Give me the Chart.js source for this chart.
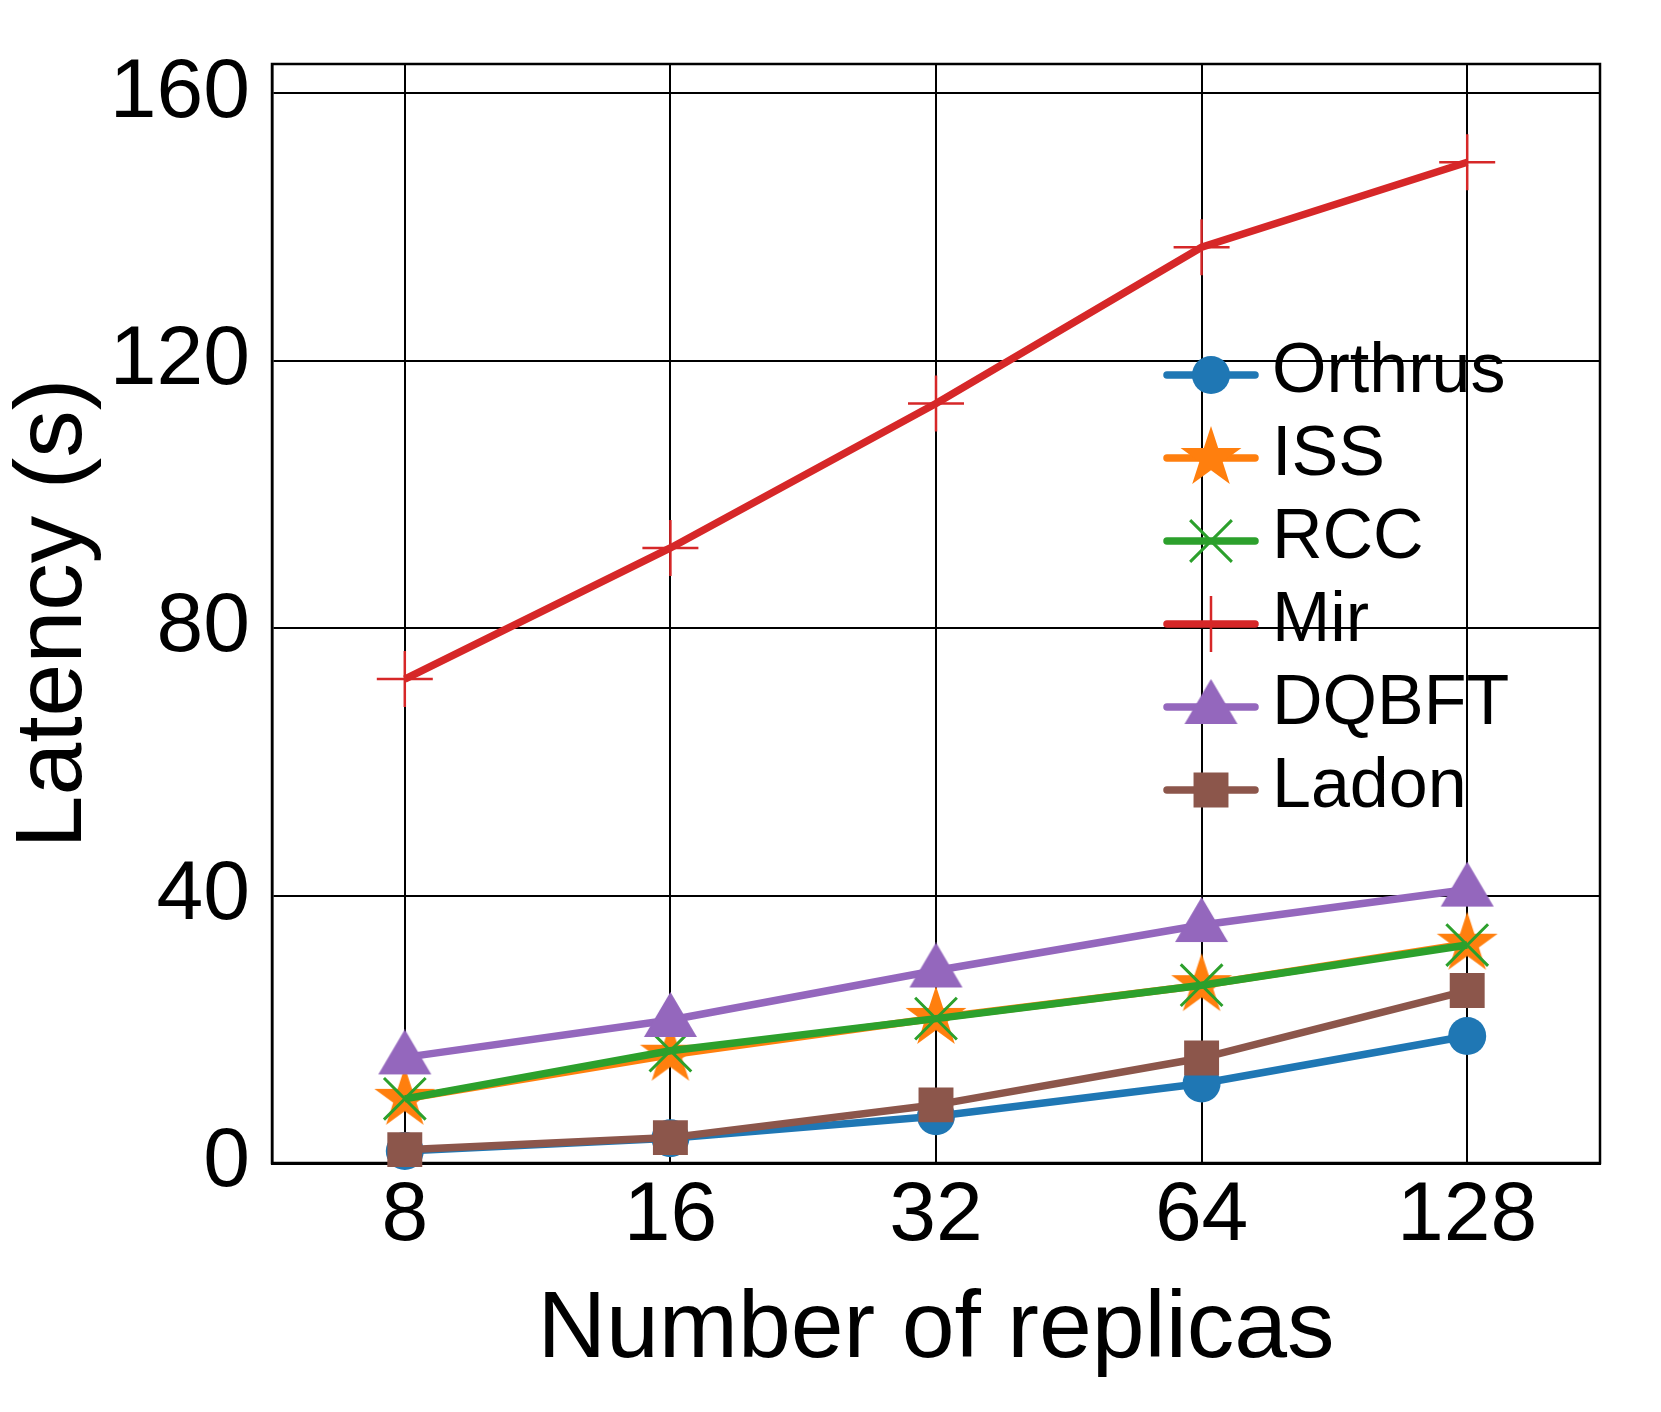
<!DOCTYPE html>
<html>
<head>
<meta charset="utf-8">
<title>Latency vs number of replicas</title>
<script src="https://cdn.jsdelivr.net/npm/chart.js@4.4.1/dist/chart.umd.min.js"></script>
<style>
  html, body { margin: 0; padding: 0; background: #fff; }
  #wrap { width: 1661px; height: 1412px; }
</style>
</head>
<body>
<div id="wrap"><canvas id="latencyChart" width="1661" height="1412"></canvas></div>
<script>
// --- values (latency in seconds)
const replicas = ['8', '16', '32', '64', '128'];
const orthrus = [1.8, 3.7, 7.0, 11.9, 19.0];
const iss     = [9.6, 16.2, 21.7, 26.6, 32.8];
const rcc     = [9.6, 16.8, 21.6, 26.6, 32.6];
const mir     = [72.4, 92.0, 113.6, 137.0, 149.7];
const dqbft   = [15.8, 21.4, 28.8, 35.6, 40.9];
const ladon   = [2.0, 3.8, 8.7, 15.7, 25.8];
const yTicks  = [0, 40, 80, 120, 160];

const FONT = '"Liberation Sans", Arial, Helvetica, sans-serif';

// filled five point star, like matplotlib's '*'
function starImage(color, outer) {
    const c = document.createElement('canvas');
    const size = Math.ceil(outer * 2 + 4);
    c.width = size;
    c.height = size;
    const ctx = c.getContext('2d');
    ctx.translate(size / 2, size / 2);
    ctx.beginPath();
    for (let i = 0; i < 10; i++) {
        const r = i % 2 ? outer * 0.382 : outer;
        const a = -Math.PI / 2 + i * Math.PI / 5;
        ctx.lineTo(r * Math.cos(a), r * Math.sin(a));
    }
    ctx.closePath();
    ctx.fillStyle = color;
    ctx.fill();
    return c;
}

// upward triangle, the point sits `below` px under the tip
function triangleImage(color, w, h, below) {
    const c = document.createElement('canvas');
    c.width = Math.ceil(w) + 2;
    c.height = below * 2;
    const ctx = c.getContext('2d');
    const cx = c.width / 2;
    ctx.beginPath();
    ctx.moveTo(cx, 0);
    ctx.lineTo(cx + w / 2, h);
    ctx.lineTo(cx - w / 2, h);
    ctx.closePath();
    ctx.fillStyle = color;
    ctx.fill();
    return c;
}

const series = [
    { label: 'Orthrus', data: orthrus, color: '#1f77b4', pointStyle: 'circle', radius: 19, pbw: 0 },
    { label: 'ISS',     data: iss,     color: '#ff7f0e', pointStyle: starImage('#ff7f0e', 32), radius: 32, pbw: 0 },
    { label: 'RCC',     data: rcc,     color: '#2ca02c', pointStyle: 'crossRot', radius: 29.5, pbw: 3 },
    { label: 'Mir',     data: mir,     color: '#d62728', pointStyle: 'cross', radius: 28, pbw: 2.5 },
    { label: 'DQBFT',   data: dqbft,   color: '#9467bd', pointStyle: triangleImage('#9467bd', 53, 45, 28), radius: 28, pbw: 0 },
    { label: 'Ladon',   data: ladon,   color: '#8c564b', pointStyle: 'rect', radius: 24.7, pbw: 0 }
];

// box round the plot (Chart.js only draws the left and bottom borders)
const plotFrame = {
    id: 'plotFrame',
    beforeDatasetsDraw(chart) {
        const { ctx, chartArea: a } = chart;
        ctx.save();
        ctx.strokeStyle = '#000';
        ctx.lineWidth = 2.5;
        ctx.strokeRect(a.left, a.top, a.right - a.left, a.bottom - a.top);
        ctx.restore();
    }
};

// legend sitting inside the plot, no frame
const legendInPlot = {
    id: 'legendInPlot',
    afterDatasetsDraw(chart) {
        const { ctx, chartArea: a } = chart;
        const x0 = a.left + 895;   // start of the legend line
        const y0 = a.top + 309;    // first row
        const rowH = 83;
        const lineLen = 88;
        ctx.save();
        series.forEach((s, i) => {
            const y = y0 + i * rowH;
            ctx.strokeStyle = s.color;
            ctx.lineWidth = 7.5;
            ctx.lineCap = 'round';
            ctx.beginPath();
            ctx.moveTo(x0, y + 2);
            ctx.lineTo(x0 + lineLen, y + 2);
            ctx.stroke();

            ctx.lineCap = 'butt';
            ctx.fillStyle = s.color;
            ctx.strokeStyle = s.color;
            ctx.lineWidth = s.pbw;
            Chart.helpers.drawPoint(ctx, {
                pointStyle: s.pointStyle, radius: s.radius, rotation: 0, borderWidth: s.pbw
            }, x0 + lineLen / 2, y + 2);

            ctx.fillStyle = '#000';
            ctx.font = `70px ${FONT}`;
            ctx.textAlign = 'left';
            ctx.textBaseline = 'middle';
            ctx.fillText(s.label, x0 + 105, y);
        });
        ctx.restore();
    }
};

const datasets = series.map((s, i) => ({
    label: s.label,
    data: s.data,
    borderColor: s.color,
    backgroundColor: s.color,
    borderWidth: 7.5,
    pointStyle: s.pointStyle,
    pointRadius: s.radius,
    pointBackgroundColor: s.color,
    pointBorderColor: s.color,
    pointBorderWidth: s.pbw,
    tension: 0,
    fill: false,
    clip: false,
    order: series.length - i   // later series drawn on top, like matplotlib
}));

new Chart(document.getElementById('latencyChart'), {
    type: 'line',
    data: { labels: replicas, datasets },
    options: {
        responsive: false,
        animation: false,
        devicePixelRatio: 1,
        events: [],
        layout: { padding: { top: 64, right: 61, left: 0, bottom: 0 } },
        plugins: { legend: { display: false }, tooltip: { enabled: false } },
        scales: {
            x: {
                type: 'category',
                offset: true,
                grid: { color: '#000', lineWidth: 2, drawTicks: false, offset: false },
                border: { color: '#000', width: 3 },
                ticks: { color: '#000', padding: 12, font: { family: FONT, size: 84, lineHeight: 1 } },
                title: {
                    display: true,
                    text: 'Number of replicas',
                    color: '#000',
                    font: { family: FONT, size: 95, lineHeight: 1 },
                    padding: { top: 0, bottom: 34 }
                },
                afterFit: s => { s.height = 249; s.paddingLeft = 0; s.paddingRight = 0; }
            },
            y: {
                min: 0,
                max: 164.4,
                grid: { color: '#000', lineWidth: 2, drawTicks: false },
                border: { color: '#000', width: 2.5 },
                ticks: { color: '#000', padding: 22, includeBounds: false, font: { family: FONT, size: 84, lineHeight: 1 } },
                afterBuildTicks: s => { s.ticks = yTicks.map(v => ({ value: v })); },
                title: {
                    display: true,
                    text: 'Latency (s)',
                    color: '#000',
                    font: { family: FONT, size: 95, lineHeight: 1 },
                    padding: { top: 7.5, bottom: 0 }
                },
                afterFit: s => { s.width = 272; s.paddingTop = 0; s.paddingBottom = 0; }
            }
        }
    },
    plugins: [plotFrame, legendInPlot]
});
</script>
</body>
</html>
